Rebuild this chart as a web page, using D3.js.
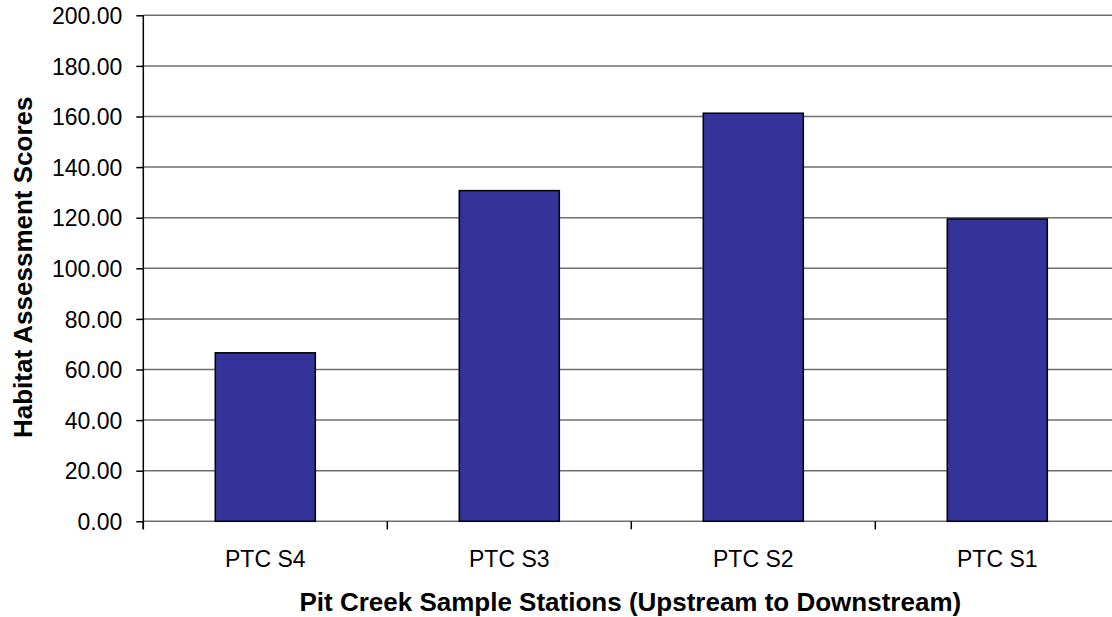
<!DOCTYPE html>
<html>
<head>
<meta charset="utf-8">
<script src="https://cdn.jsdelivr.net/npm/d3@7"></script>
<style>
  html, body { margin: 0; padding: 0; background: #fff; overflow: hidden; }
  svg { display: block; }
  text { font-family: "Liberation Sans", Arial, sans-serif; fill: #000; }
</style>
</head>
<body>
<svg id="chart" width="1112" height="617"></svg>
<script>
// Habitat assessment scores per Pit Creek station
const stations = ["PTC S4", "PTC S3", "PTC S2", "PTC S1"];
const scores = [66.6, 130.7, 161.3, 119.5];
const yTicks = [0, 20, 40, 60, 80, 100, 120, 140, 160, 180, 200];
const xTitle = "Pit Creek Sample Stations (Upstream to Downstream)";
const yTitle = "Habitat Assessment Scores";

const svg = d3.select("#chart");
const plotLeft = 143.3, plotTop = 15.3, plotBottom = 521.3, step = 244;
const plotRight = plotLeft + step * stations.length;

const x = d3.scaleBand()
  .domain(stations)
  .range([plotLeft, plotRight])
  .paddingInner(0.59)
  .paddingOuter(0.295);

const y = d3.scaleLinear().domain([0, 200]).range([plotBottom, plotTop]);

// horizontal gridlines
svg.append("g")
  .selectAll("line")
  .data(yTicks)
  .join("line")
  .attr("x1", plotLeft)
  .attr("x2", plotRight)
  .attr("y1", d => y(d))
  .attr("y2", d => y(d))
  .attr("stroke", "#6e6e6e")
  .attr("stroke-width", 1.5);

// bars
svg.append("g")
  .selectAll("rect")
  .data(stations)
  .join("rect")
  .attr("x", d => x(d))
  .attr("width", x.bandwidth())
  .attr("y", (d, i) => y(scores[i]))
  .attr("height", (d, i) => y(0) - y(scores[i]))
  .attr("fill", "#333399")
  .attr("stroke", "#000")
  .attr("stroke-width", 1.5);

// y axis
const yAxis = svg.append("g")
  .attr("transform", `translate(${plotLeft},0)`)
  .call(d3.axisLeft(y).tickValues(yTicks).tickSize(7).tickPadding(14).tickFormat(d3.format(".2f")));
yAxis.select(".domain").attr("stroke", "#000").attr("stroke-width", 1.5)
  .attr("d", `M0,${plotTop}V${plotBottom + 8}`);
yAxis.selectAll(".tick line").attr("stroke", "#000").attr("stroke-width", 1.5);
yAxis.selectAll(".tick text")
  .attr("font-size", 23)
  .attr("font-family", "Liberation Sans, Arial, sans-serif")
  .attr("fill", "#000")
  .attr("dy", "0.36em");

// x axis: ticks at category boundaries
const bounds = d3.range(stations.length + 1).map(i => plotLeft + i * step);
svg.append("g")
  .selectAll("line")
  .data(bounds)
  .join("line")
  .attr("x1", d => d).attr("x2", d => d)
  .attr("y1", plotBottom).attr("y2", plotBottom + 8)
  .attr("stroke", "#000").attr("stroke-width", 1.5);

svg.append("g")
  .selectAll("text")
  .data(stations)
  .join("text")
  .attr("x", d => x(d) + x.bandwidth() / 2)
  .attr("y", 566.7)
  .attr("text-anchor", "middle")
  .attr("font-size", 23)
  .text(d => d);

// axis titles
svg.append("text")
  .attr("x", (plotLeft + plotRight) / 2 - 1)
  .attr("y", 610.7)
  .attr("text-anchor", "middle")
  .attr("font-size", 26)
  .attr("font-weight", "bold")
  .text(xTitle);

svg.append("text")
  .attr("transform", `translate(31.5,${(plotTop + plotBottom) / 2 - 1}) rotate(-90)`)
  .attr("text-anchor", "middle")
  .attr("font-size", 26)
  .attr("font-weight", "bold")
  .text(yTitle);
</script>
</body>
</html>
